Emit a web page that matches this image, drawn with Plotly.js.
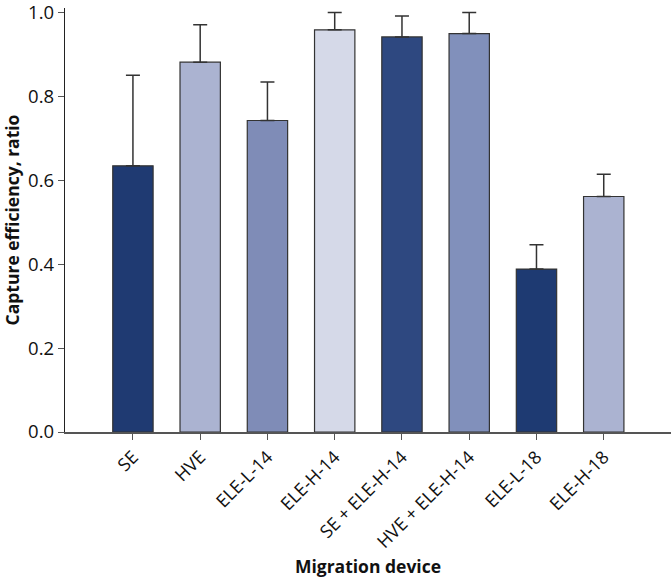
<!DOCTYPE html>
<html>
<head>
<meta charset="utf-8">
<script src="https://cdn.plot.ly/plotly-3.0.1.min.js"></script>
<style>
  body { margin: 0; background: #fff; }
  #chart { width: 671px; height: 578px; }
</style>
</head>
<body>
<div id="chart"></div>
<script>
// Capture efficiency by migration device
var devices = ["SE", "HVE", "ELE-L-14", "ELE-H-14", "SE + ELE-H-14", "HVE + ELE-H-14", "ELE-L-18", "ELE-H-18"];
var efficiency = [0.634, 0.881, 0.742, 0.958, 0.941, 0.949, 0.388, 0.561];
var errorUp = [0.216, 0.089, 0.092, 0.041, 0.050, 0.050, 0.058, 0.053];
var barColors = ["#1f3a72", "#abb3d1", "#7f8cb7", "#d5d9e8", "#2e4880", "#8190bb", "#1e3a72", "#abb3d1"];
var yTicks = [0, 0.2, 0.4, 0.6, 0.8, 1.0];

var trace = {
  x: devices,
  y: efficiency,
  type: "bar",
  width: 0.6,
  marker: {color: barColors, line: {color: "#333", width: 1.2}},
  error_y: {
    type: "data",
    symmetric: false,
    array: errorUp,
    arrayminus: devices.map(d => 0),
    color: "#333",
    thickness: 1.5,
    width: 7
  },
  hoverinfo: "none"
};

var layout = {
  width: 671,
  height: 578,
  margin: {l: 65, r: 0, t: 8, b: 146},
  paper_bgcolor: "#fff",
  plot_bgcolor: "#fff",
  font: {family: "Open Sans, sans-serif", color: "#111"},
  showlegend: false,
  xaxis: {
    range: [-1.01, 8.0],
    showline: true,
    linecolor: "#555",
    linewidth: 1.5,
    ticks: "outside",
    ticklen: 6,
    tickcolor: "#555",
    tickangle: -45,
    tickfont: {size: 18},
    showgrid: false,
    zeroline: false,
    automargin: false,
    title: {text: "Migration device", font: {size: 17.5, weight: "bold"}, standoff: 18}
  },
  yaxis: {
    range: [0, 1.01],
    tickmode: "array",
    tickvals: yTicks,
    ticktext: yTicks.map(v => v.toFixed(1)),
    ticklabeloverflow: "allow",
    showline: true,
    linecolor: "#222",
    linewidth: 1.2,
    ticks: "outside",
    ticklen: 6,
    tickcolor: "#555",
    tickfont: {size: 18.5},
    showgrid: false,
    zeroline: false,
    automargin: false,
    title: {text: "Capture efficiency, ratio", font: {size: 17.5, weight: "bold"}, standoff: 6}
  }
};

Plotly.newPlot("chart", [trace], layout, {displayModeBar: false, staticPlot: true});
</script>
</body>
</html>
